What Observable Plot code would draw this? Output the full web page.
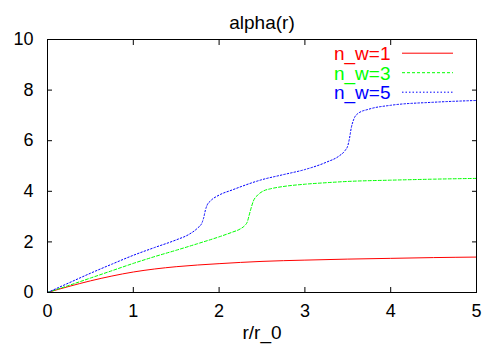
<!DOCTYPE html>
<html>
<head>
<meta charset="utf-8">
<script src="https://cdn.jsdelivr.net/npm/d3@7"></script>
<script src="https://cdn.jsdelivr.net/npm/@observablehq/plot@0.6"></script>
<style>
  html, body { margin: 0; padding: 0; background: #fff; }
</style>
</head>
<body>
<div id="chart"></div>
<script>
const titleText = "alpha(r)";
const xLabel = "r/r_0";
const xTicks = [0, 1, 2, 3, 4, 5];
const yTicks = [0, 2, 4, 6, 8, 10];
const xDomain = [0, 5];
const yDomain = [0, 10];

const seriesNames = ["n_w=1", "n_w=3", "n_w=5"];
const seriesColors = ["#ff0000", "#00ff00", "#0000ff"];
const seriesDash = [null, "3,2", "1.5,2"];

// n_w=1 (red, solid)
const r1 = [0, 0.25, 0.5, 0.75, 1, 1.25, 1.5, 2, 2.5, 3, 3.5, 4, 4.5, 5];
const a1 = [0, 0.24, 0.46, 0.65, 0.81, 0.93, 1.02, 1.14, 1.23, 1.28, 1.32, 1.35, 1.38, 1.40];

// n_w=3 (green, dashed)
const r3 = [0, 0.25, 0.5, 0.75, 1, 1.25, 1.5, 1.75, 2, 2.15, 2.25, 2.3, 2.33, 2.35, 2.37, 2.4, 2.45, 2.52, 2.6, 2.75, 3, 3.25, 3.5, 4, 4.5, 5];
const a3 = [0, 0.28, 0.57, 0.86, 1.15, 1.42, 1.67, 1.93, 2.2, 2.38, 2.52, 2.65, 2.8, 3.05, 3.3, 3.62, 3.85, 4.02, 4.1, 4.19, 4.28, 4.34, 4.39, 4.44, 4.48, 4.51];

// n_w=5 (blue, dotted)
const r5 = [0, 0.25, 0.5, 0.75, 1, 1.25, 1.5, 1.65, 1.75, 1.8, 1.82, 1.84, 1.86, 1.9, 2, 2.15, 2.5, 2.75, 3, 3.25, 3.4, 3.47, 3.5, 3.52, 3.54, 3.57, 3.62, 3.75, 4, 4.5, 5];
const a5 = [0, 0.38, 0.76, 1.12, 1.47, 1.78, 2.08, 2.3, 2.55, 2.75, 2.95, 3.25, 3.45, 3.62, 3.85, 4.05, 4.46, 4.66, 4.86, 5.15, 5.4, 5.62, 5.8, 6.1, 6.5, 6.85, 7.08, 7.25, 7.4, 7.52, 7.59];

const rs = [r1, r3, r5];
const as = [a1, a3, a5];

const rows = [];
rs.forEach((r, s) => r.forEach((x, i) => rows.push({series: seriesNames[s], x, y: as[s][i]})));

const W = 500, H = 350;
const mL = 47, mR = 24, mT = 39, mB = 58;
const FS = 18, FT = 19;

const seriesMarks = seriesNames.map((name, s) =>
  Plot.line(rows.filter(d => d.series === name), {
    x: "x", y: "y", stroke: seriesColors[s], strokeWidth: 1,
    strokeDasharray: seriesDash[s] || undefined, curve: "monotone-x"
  })
);

const legendMarks = [];
seriesNames.forEach((name, s) => {
  legendMarks.push(Plot.text([name], {
    frameAnchor: "top-right", dx: -86, dy: 14.5 + s * 19.5,
    textAnchor: "end", lineAnchor: "middle", fill: seriesColors[s], fontSize: FT
  }));
  legendMarks.push(Plot.ruleY([yDomain[1]], {
    dy: 13.7 + s * 19.5, insetLeft: 355, insetRight: 23,
    stroke: seriesColors[s], strokeWidth: 1, strokeDasharray: seriesDash[s] || undefined
  }));
});

const chart = Plot.plot({
  width: W, height: H,
  marginLeft: mL, marginRight: mR, marginTop: mT, marginBottom: mB,
  style: {fontFamily: "'Liberation Sans', Arial, sans-serif", fontSize: FS + "px", background: "#fff", color: "#000"},
  x: {domain: xDomain},
  y: {domain: yDomain},
  marks: [
    Plot.axisX(xTicks, {anchor: "bottom", tickSize: -5, tickPadding: 17, label: null, fontSize: FS}),
    Plot.axisX(xTicks, {anchor: "top", tickSize: -5, tickFormat: () => "", label: null}),
    Plot.axisY(yTicks, {anchor: "left", tickSize: -5, tickPadding: 19, label: null, fontSize: FS}),
    Plot.axisY(yTicks, {anchor: "right", tickSize: -5, tickFormat: () => "", label: null}),
    ...seriesMarks,
    ...legendMarks,
    Plot.frame({stroke: "#000", strokeWidth: 1}),
    Plot.text([titleText], {frameAnchor: "top", dy: -17, lineAnchor: "middle", fontSize: FT}),
    Plot.text([xLabel], {frameAnchor: "bottom", dy: 40, lineAnchor: "middle", fontSize: FT})
  ]
});
document.getElementById("chart").appendChild(chart);
</script>
</body>
</html>
